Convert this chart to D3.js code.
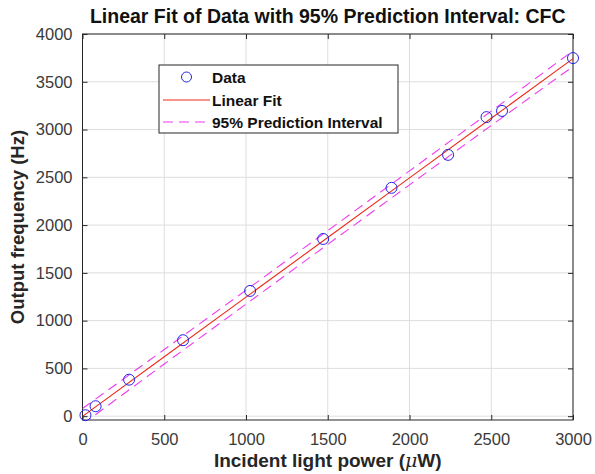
<!DOCTYPE html>
<html>
<head>
<meta charset="utf-8">
<script src="https://cdn.jsdelivr.net/npm/d3@7"></script>
<style>
  body { margin: 0; background: #fff; }
  text { font-family: "Liberation Sans", Arial, sans-serif; }
</style>
</head>
<body>
<div id="chart"></div>
<script>
// data
var powerUW = [18, 80, 285, 615, 1025, 1472, 1890, 2236, 2471, 2566, 3000];
var freqHz  = [10, 104, 382, 795, 1311, 1855, 2390, 2735, 3130, 3195, 3748];

// fitted line and prediction interval (read at these x positions)
var fitX     = [0, 500, 1000, 1500, 2000, 2500, 3000];
var fitY     = [-2, 622, 1246, 1870, 2494, 3118, 3742];
var piUpper  = [80, 698, 1319, 1942, 2567, 3193, 3824];
var piLower  = [-84, 546, 1173, 1798, 2421, 3043, 3660];

var xTicks = [0, 500, 1000, 1500, 2000, 2500, 3000];
var yTicks = [0, 500, 1000, 1500, 2000, 2500, 3000, 3500, 4000];

var W = 595, H = 474;
var margin = { left: 82.5, right: 22, top: 34, bottom: 54 };
var width = W - margin.left - margin.right,
    height = H - margin.top - margin.bottom;

var svg = d3.select("#chart").append("svg")
    .attr("width", W)
    .attr("height", H);

var g = svg.append("g")
    .attr("transform", "translate(" + margin.left + "," + margin.top + ")");

var x = d3.scaleLinear().domain([0, 3000]).range([0, width]);
var y = d3.scaleLinear().domain([-40, 4000]).range([height, 0]);

svg.append("defs").append("clipPath").attr("id", "clip")
    .append("rect").attr("width", width).attr("height", height);

// grid
g.selectAll(".gx").data(xTicks).enter().append("line")
    .attr("x1", d => x(d)).attr("x2", d => x(d))
    .attr("y1", 0).attr("y2", height)
    .style("stroke", "#dedede").style("stroke-width", 1);
g.selectAll(".gy").data(yTicks).enter().append("line")
    .attr("x1", 0).attr("x2", width)
    .attr("y1", d => y(d)).attr("y2", d => y(d))
    .style("stroke", "#dedede").style("stroke-width", 1);

// axes (ticks inward on all four sides)
var axisColor = "#262626";
var fmt = d3.format("d");
function styleAxis(sel) {
    sel.select(".domain").remove();
    sel.selectAll("line").style("stroke", axisColor);
    sel.selectAll("text").style("font-size", "16.5px").style("fill", "#3a3a3a");
}
g.append("g").attr("transform", "translate(0," + height + ")")
    .call(d3.axisBottom(x).tickValues(xTicks).tickFormat(fmt).tickSizeInner(-5).tickSizeOuter(0).tickPadding(13))
    .call(styleAxis);
g.append("g")
    .call(d3.axisLeft(y).tickValues(yTicks).tickFormat(fmt).tickSizeInner(-5).tickSizeOuter(0).tickPadding(10))
    .call(styleAxis);
g.append("g")
    .call(d3.axisTop(x).tickValues(xTicks).tickSizeInner(-5).tickSizeOuter(0).tickFormat(""))
    .call(styleAxis);
g.append("g").attr("transform", "translate(" + width + ",0)")
    .call(d3.axisRight(y).tickValues(yTicks).tickSizeInner(-5).tickSizeOuter(0).tickFormat(""))
    .call(styleAxis);

g.append("rect")
    .attr("width", width).attr("height", height)
    .style("fill", "none").style("stroke", axisColor).style("stroke-width", 1);

var plot = g.append("g").attr("clip-path", "url(#clip)");

var line = d3.line().x(d => x(d[0])).y(d => y(d[1]));

// prediction interval
[piUpper, piLower].forEach(function(arr) {
    plot.append("path")
        .datum(fitX.map((v, i) => [v, arr[i]]))
        .attr("d", line)
        .style("fill", "none")
        .style("stroke", "#f03cf0")
        .style("stroke-width", 1.1)
        .style("stroke-dasharray", "10,6");
});

// linear fit
plot.append("path")
    .datum(fitX.map((v, i) => [v, fitY[i]]))
    .attr("d", line)
    .style("fill", "none")
    .style("stroke", "#ee2a1a")
    .style("stroke-width", 1.1);

// data
g.selectAll(".pt").data(powerUW).enter().append("circle")
    .attr("cx", d => x(d))
    .attr("cy", (d, i) => y(freqHz[i]))
    .attr("r", 5.5)
    .style("fill", "none")
    .style("stroke", "#2323e6")
    .style("stroke-width", 1);

// title + labels
svg.append("text")
    .attr("x", margin.left + width / 2).attr("y", 23)
    .attr("text-anchor", "middle")
    .style("font-size", "19.5px").style("font-weight", "bold").style("fill", "#111")
    .text("Linear Fit of Data with 95% Prediction Interval: CFC");

var xl = svg.append("text")
    .attr("x", margin.left + width / 2).attr("y", 467)
    .attr("text-anchor", "middle")
    .style("font-size", "19px").style("font-weight", "bold").style("fill", "#262626");
xl.append("tspan").text("Incident light power (");
xl.append("tspan").text("\u03BC")
    .style("font-family", "'DejaVu Serif', serif").style("font-style", "italic").style("font-weight", "normal");
xl.append("tspan").text("W)");

svg.append("text")
    .attr("transform", "translate(24," + (margin.top + height / 2) + ") rotate(-90)")
    .attr("text-anchor", "middle")
    .style("font-size", "18.5px").style("font-weight", "bold").style("fill", "#262626")
    .text("Output frequency (Hz)");

// legend
var lg = svg.append("g").attr("transform", "translate(159,65)");
lg.append("rect").attr("width", 239).attr("height", 68)
    .style("fill", "#fff").style("stroke", "#262626").style("stroke-width", 1);
var items = ["Data", "Linear Fit", "95% Prediction Interval"];
var rowY = [12, 35, 57];
lg.append("circle").attr("cx", 27.5).attr("cy", rowY[0]).attr("r", 5)
    .style("fill", "none").style("stroke", "#2323e6");
lg.append("line").attr("x1", 4).attr("x2", 51).attr("y1", rowY[1]).attr("y2", rowY[1])
    .style("stroke", "#ee2a1a").style("stroke-width", 1.1);
lg.append("line").attr("x1", 4).attr("x2", 51).attr("y1", rowY[2]).attr("y2", rowY[2])
    .style("stroke", "#f03cf0").style("stroke-width", 1.1).style("stroke-dasharray", "10,6");
lg.selectAll(".lt").data(items).enter().append("text")
    .attr("x", 53).attr("y", (d, i) => rowY[i] + 5.5)
    .style("font-size", "15.5px").style("font-weight", "bold").style("fill", "#111")
    .text(d => d);
</script>
</body>
</html>
